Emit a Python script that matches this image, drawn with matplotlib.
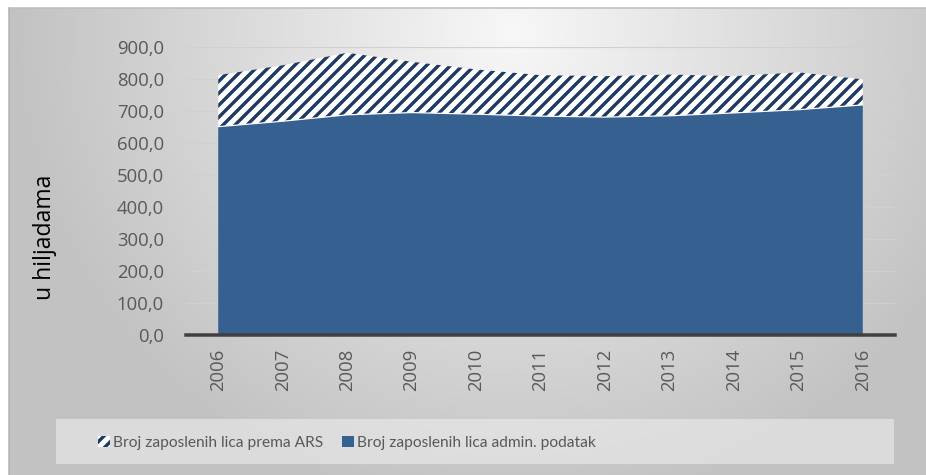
"""Employment in thousands: ARS survey vs administrative records, 2006-2016."""
import numpy as np
import matplotlib
matplotlib.use("Agg")
import matplotlib.pyplot as plt
from matplotlib.patches import Patch, Rectangle

years = ["2006", "2007", "2008", "2009", "2010", "2011",
         "2012", "2013", "2014", "2015", "2016"]
ars = [812, 843, 882, 854, 830, 812, 809, 814, 809, 821, 799]
admin = [651, 668, 688, 695, 690, 684, 681, 685, 694, 704, 719]
yticks = [0, 100, 200, 300, 400, 500, 600, 700, 800, 900]

label_ars = "Broj zaposlenih lica prema ARS"
label_admin = "Broj zaposlenih lica admin. podatak"
ylabel = "u hiljadama"

NAVY = "#1F3A5F"
BLUE = "#36608F"
GREY_TXT = "#595959"
LEG_FONT = ["Lato", "DejaVu Sans"]

W, H, DPI = 926, 475, 72
plt.rcParams["font.family"] = ["Open Sans", "DejaVu Sans"]
plt.rcParams["hatch.linewidth"] = 3.4
plt.rcParams["hatch.color"] = NAVY

fig = plt.figure(figsize=(W / DPI, H / DPI), dpi=DPI)
fig.patch.set_facecolor("white")

# gradient chart background (white near the top middle, grey at the edges)
bg = fig.add_axes([9 / W, 0, 1 - 9 / W, (H - 8) / H], zorder=0)
gx, gy = np.meshgrid(np.linspace(-1, 1, 400), np.linspace(-1, 1, 200))
r = np.sqrt(((gx - 0.1) / 1.0) ** 2 + ((gy + 0.9) / 1.9) ** 2)
shade = 0.97 - 0.19 * np.clip(r, 0, 1.1)
bg.imshow(np.dstack([shade] * 3), aspect="auto", extent=[0, 1, 0, 1], origin="upper")
bg.set_axis_off()
fig.add_artist(plt.Line2D([9 / W, 9 / W], [0, (H - 8) / H], color="#B0B0B0", lw=1.5))
fig.add_artist(plt.Line2D([9 / W, 1], [(H - 8) / H, (H - 8) / H], color="#BDBDBD", lw=1.5))

ax = fig.add_axes([186 / W, (H - 335) / H, (895 - 186) / W, 288 / H], zorder=2)
ax.patch.set_alpha(0)
x = np.arange(len(years))

ax.fill_between(x, admin, ars, facecolor="white", hatch="//", edgecolor=NAVY, lw=0, zorder=2)
ax.fill_between(x, 0, admin, facecolor=BLUE, lw=0, zorder=4)
ax.plot(x, admin, color="white", lw=1.2, zorder=4)

ax.set_xlim(-0.5, len(years) - 0.5)
ax.set_ylim(0, 900)
ax.set_yticks(yticks)
ax.set_yticklabels([f"{v:.1f}".replace(".", ",") for v in yticks])
ax.set_xticks(x)
ax.set_xticklabels(years, rotation=90)
ax.tick_params(axis="both", length=0, labelsize=18.5, labelcolor=GREY_TXT)
ax.tick_params(axis="y", pad=22)
ax.tick_params(axis="x", pad=14)
ax.grid(axis="y", color="#D0D0D0", lw=1.2, zorder=1)
ax.set_axisbelow(True)
for s in ("top", "right", "left"):
    ax.spines[s].set_visible(False)
ax.spines["bottom"].set_color("#404040")
ax.spines["bottom"].set_linewidth(3.5)
ax.spines["bottom"].set_zorder(6)

fig.text(45 / W, (H - 237) / H, ylabel, rotation=90, ha="center", va="center",
         fontsize=23, color="black")

# legend band
fig.add_artist(Rectangle((56 / W, (H - 464) / H), (894 - 56) / W, 45 / H,
                         transform=fig.transFigure, facecolor="#F0F0F0", alpha=0.55,
                         lw=0, zorder=1))
entries = [(Patch(facecolor="white", hatch="//", edgecolor=NAVY, lw=0, label=label_ars), 98),
           (Patch(facecolor=BLUE, label=label_admin), 342)]
for handle, xpos in entries:
    leg = fig.legend(handles=[handle], loc="center left",
                     bbox_to_anchor=(xpos / W, (H - 443) / H), frameon=False,
                     prop={"family": LEG_FONT, "size": 15.5}, handlelength=0.75,
                     handleheight=0.75, handletextpad=0.2, borderpad=0, borderaxespad=0)
    for t in leg.get_texts():
        t.set_color(GREY_TXT)

fig.savefig("out.png", dpi=DPI)
